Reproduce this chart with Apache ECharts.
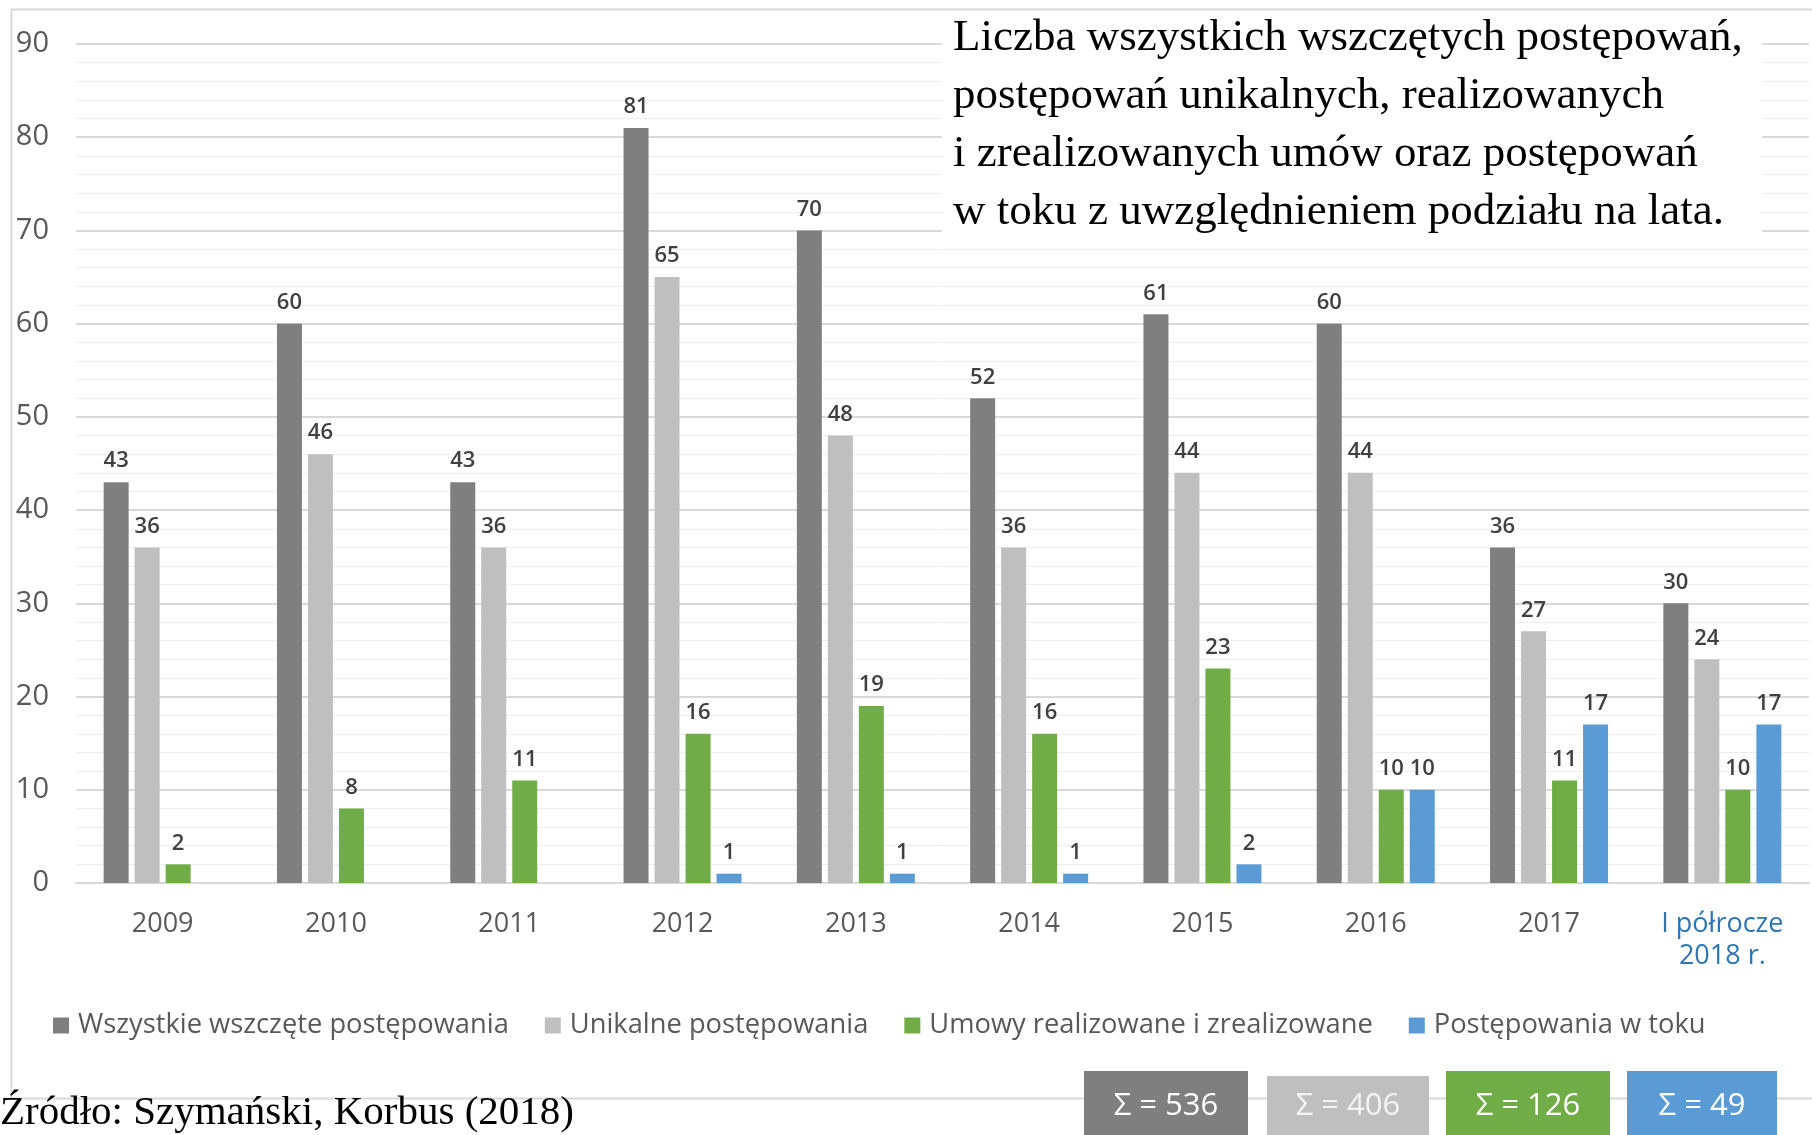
<!DOCTYPE html>
<html>
<head>
<meta charset="utf-8">
<title>Postępowania 2009-2018</title>
<script src="https://cdn.jsdelivr.net/npm/echarts@6/dist/echarts.min.js"></script>
<style>
  html, body { margin: 0; padding: 0; background: #fff; }
  #chart { width: 1812px; height: 1135px; }
</style>
</head>
<body>
<div id="chart"></div>
<script>
// dane
var years = ['2009', '2010', '2011', '2012', '2013', '2014', '2015', '2016', '2017', 'I półrocze\n2018 r.'];
var seriesNames = ['Wszystkie wszczęte postępowania', 'Unikalne postępowania', 'Umowy realizowane i zrealizowane', 'Postępowania w toku'];
var wszystkie = [43, 60, 43, 81, 70, 52, 61, 60, 36, 30];
var unikalne = [36, 46, 36, 65, 48, 36, 44, 44, 27, 24];
var umowy = [2, 8, 11, 16, 19, 16, 23, 10, 11, 10];
var wToku = [null, null, null, 1, 1, 1, 2, 10, 17, 17];
var yTicks = [0, 10, 20, 30, 40, 50, 60, 70, 80, 90];

var colors = ['#7f7f7f', '#bfbfbf', '#70ad47', '#5b9bd5'];
var sans = '"Open Sans", "Noto Sans", sans-serif';
var serif = '"Liberation Serif", "DejaVu Serif", serif';

function sum(arr) {
    var s = 0;
    for (var i = 0; i < arr.length; i++) { if (arr[i] != null) s += arr[i]; }
    return s;
}

var chart = echarts.init(document.getElementById('chart'));

function makeSeries(name, data, color) {
    return {
        name: name,
        type: 'bar',
        data: data,
        barWidth: 25,
        barGap: '24%',
        itemStyle: { color: color },
        label: {
            show: true,
            position: 'top',
            distance: 10,
            color: '#404040',
            fontFamily: sans,
            fontSize: 22,
            fontWeight: 600
        }
    };
}

// pola z sumami pod wykresem
var sumBoxes = [
    { x: 1084, y: 1071, w: 164, fill: colors[0], txt: '#ffffff', v: sum(wszystkie) },
    { x: 1267, y: 1076, w: 162, fill: colors[1], txt: '#f4f4f4', v: sum(unikalne) },
    { x: 1446, y: 1071, w: 164, fill: colors[2], txt: '#ffffff', v: sum(umowy) },
    { x: 1627, y: 1071, w: 150, fill: colors[3], txt: '#ffffff', v: sum(wToku) }
];
var graphics = [
    {
        type: 'rect', z: 0, silent: true,
        shape: { x: 11.5, y: 9.5, width: 1900, height: 1089 },
        style: { fill: null, stroke: '#d9d9d9', lineWidth: 2 }
    },
    {
        type: 'rect', z: 20, silent: true,
        shape: { x: 942, y: 14, width: 820, height: 222 },
        style: { fill: '#ffffff' }
    },
    {
        type: 'text', z: 21, left: 953, top: 9,
        style: {
            text: 'Liczba wszystkich wszczętych postępowań,\npostępowań unikalnych, realizowanych\ni zrealizowanych umów oraz postępowań\nw toku z uwzględnieniem podziału na lata.',
            font: '45px ' + serif,
            lineHeight: 58,
            fill: '#000000'
        }
    },
    {
        type: 'text', z: 21, left: 0, top: 1093,
        style: {
            text: 'Źródło: Szymański, Korbus (2018)',
            font: '41px ' + serif,
            fill: '#000000'
        }
    }
];
sumBoxes.forEach(function (b) {
    graphics.push({
        type: 'rect', z: 21, silent: true,
        shape: { x: b.x, y: b.y, width: b.w, height: 80 },
        style: { fill: b.fill }
    });
    graphics.push({
        type: 'text', z: 22, x: b.x + b.w / 2, y: 1106,
        style: {
            text: 'Σ = ' + b.v,
            font: '31px ' + sans,
            fill: b.txt,
            align: 'center',
            verticalAlign: 'middle'
        }
    });
});

var option = {
    backgroundColor: '#ffffff',
    animation: false,
    color: colors,
    grid: { left: 76, right: 3, top: 44, bottom: 1135 - 883 },
    legend: {
        left: 53,
        top: 1012,
        padding: 0,
        itemWidth: 16,
        itemHeight: 16,
        itemGap: 36,
        icon: 'rect',
        textStyle: { color: '#595959', fontFamily: sans, fontSize: 27.3, padding: [0, 0, 0, 4] },
        data: seriesNames
    },
    xAxis: {
        type: 'category',
        data: years,
        axisTick: { show: false },
        axisLine: { lineStyle: { color: '#d9d9d9', width: 2 } },
        axisLabel: {
            margin: 25,
            fontFamily: sans,
            fontSize: 27,
            lineHeight: 32,
            color: function (value, index) {
                return index === years.length - 1 ? '#2e75b6' : '#595959';
            }
        }
    },
    yAxis: {
        type: 'value',
        min: yTicks[0],
        max: yTicks[yTicks.length - 1],
        interval: 10,
        axisLine: { show: false },
        axisTick: { show: false },
        axisLabel: { margin: 27, fontFamily: sans, fontSize: 29, color: '#595959' },
        splitLine: { lineStyle: { color: '#d9d9d9', width: 2 } },
        minorTick: { show: false, splitNumber: 5 },
        minorSplitLine: { show: true, lineStyle: { color: '#eeeeee', width: 1 } }
    },
    graphic: graphics,
    series: [
        makeSeries(seriesNames[0], wszystkie, colors[0]),
        makeSeries(seriesNames[1], unikalne, colors[1]),
        makeSeries(seriesNames[2], umowy, colors[2]),
        makeSeries(seriesNames[3], wToku, colors[3])
    ]
};
chart.setOption(option);
</script>
</body>
</html>
